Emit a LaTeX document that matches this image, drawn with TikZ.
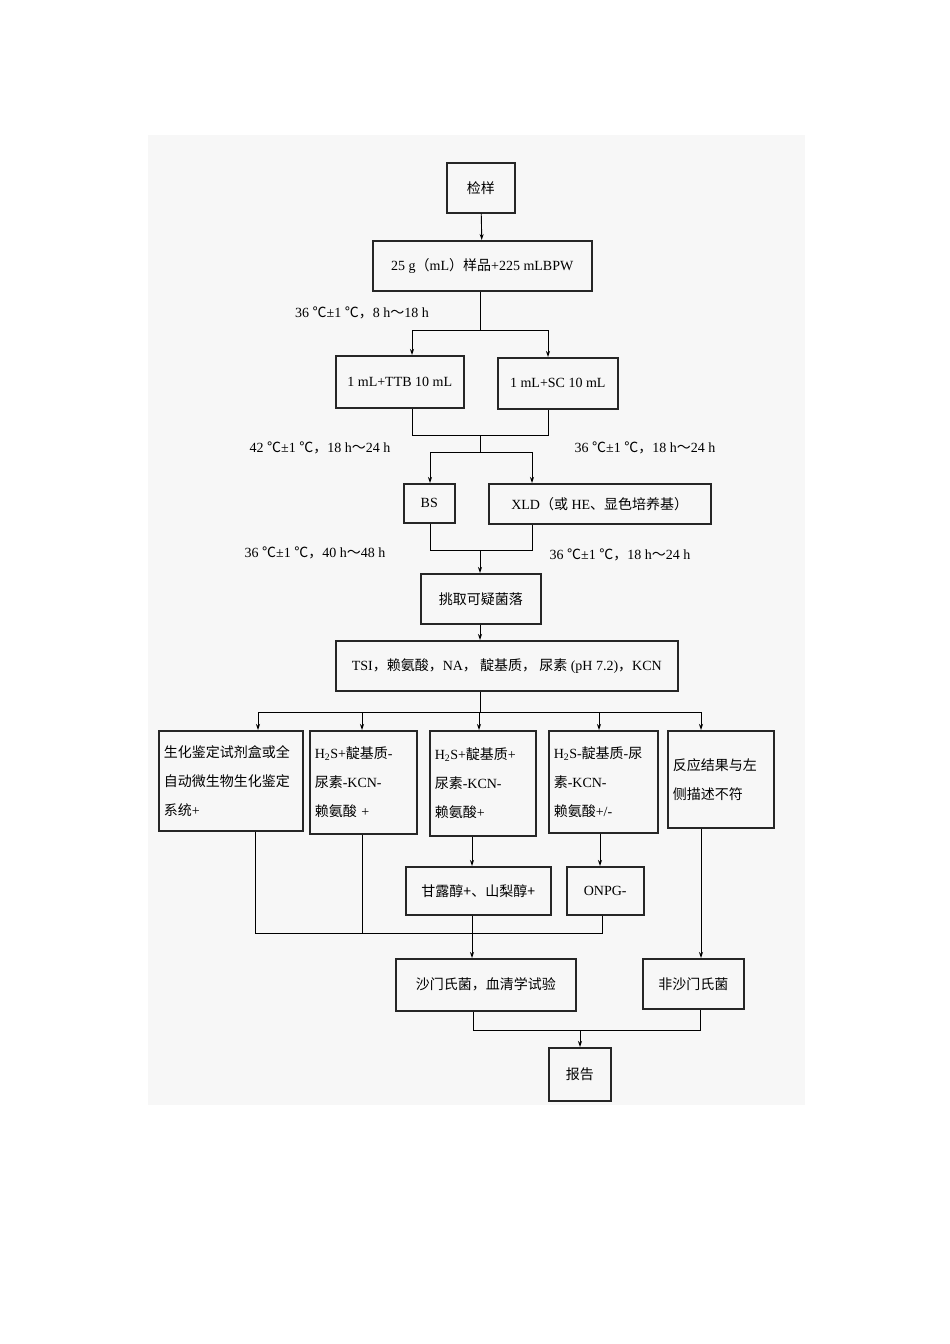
\documentclass[tikz,border=0pt]{standalone}
\usepackage{fontspec}
\setmainfont{Liberation Serif}
\newfontfamily\cjk{Noto Sans CJK SC}
\newcommand\zh[1]{{\cjk #1}}
\usetikzlibrary{arrows.meta}
\begin{document}
\begin{tikzpicture}[x=1pt,y=-1pt,
  box/.style={draw=black!85,line width=1.5pt,anchor=north west,inner sep=0pt,font=\fontsize{14}{17}\selectfont},
  mbox/.style={box,align=left,font=\fontsize{14}{29}\selectfont,text width=#1,inner xsep=5pt,inner ysep=8pt},
  lab/.style={font=\fontsize{14}{16}\selectfont},
  ln/.style={line width=0.9pt},
  ar/.style={ln,-{Stealth[length=6pt,width=4pt]}}]
\useasboundingbox[fill=white] (0,0) rectangle (950,1344);
\fill[black!3] (148,135) rectangle (805,1105);
\node[box,minimum width=68,minimum height=50] (jy) at (446,162) {\zh{检样}};
\node[box,minimum width=219,minimum height=50] (s25) at (372,240) {25 g\zh{（}mL\zh{）样品}+225 mLBPW};
\node[lab] at (362,313) {36 \zh{℃}±1 \zh{℃，}8 h\zh{～}18 h};
\node[box,minimum width=128,minimum height=52] (ttb) at (335,355) {1 mL+TTB 10 mL};
\node[box,minimum width=120,minimum height=51] (sc) at (497,357) {1 mL+SC 10 mL};
\node[lab] at (320,448) {42 \zh{℃}±1 \zh{℃，}18 h\zh{～}24 h};
\node[lab] at (645,448) {36 \zh{℃}±1 \zh{℃，}18 h\zh{～}24 h};
\node[box,minimum width=51,minimum height=39] (bs) at (403,483) {BS};
\node[box,minimum width=222,minimum height=40] (xld) at (488,483) {XLD\zh{（或} HE\zh{、显色培养基）}};
\node[lab] at (315,553) {36 \zh{℃}±1 \zh{℃，}40 h\zh{～}48 h};
\node[lab] at (620,555) {36 \zh{℃}±1 \zh{℃，}18 h\zh{～}24 h};
\node[box,minimum width=120,minimum height=50] (tq) at (420,573) {\zh{挑取可疑菌落}};
\node[box,minimum width=342,minimum height=50] (tsi) at (335,640) {TSI\zh{，赖氨酸，}NA\zh{， 靛基质， 尿素} (pH 7.2)\zh{，}KCN};
\node[mbox=134,minimum width=144,minimum height=100] (a) at (158,730) {\zh{生化鉴定试剂盒或全}\\\zh{自动微生物生化鉴定}\\\zh{系统}+};
\node[mbox=97,minimum width=107,minimum height=103] (b) at (309,730) {H\textsubscript{2}S+\zh{靛基质}-\\\zh{尿素}-KCN-\\\zh{赖氨酸} +};
\node[mbox=96,minimum width=106,minimum height=105] (c) at (429,730) {H\textsubscript{2}S+\zh{靛基质}+\\\zh{尿素}-KCN-\\\zh{赖氨酸}+};
\node[mbox=99,minimum width=109,minimum height=102] (d) at (548,730) {H\textsubscript{2}S-\zh{靛基质}-\zh{尿}\\\zh{素}-KCN-\\\zh{赖氨酸}+/-};
\node[mbox=96,minimum width=106,minimum height=97] (e) at (667,730) {\zh{反应结果与左}\\\zh{侧描述不符}};
\node[box,minimum width=145,minimum height=48] (f) at (405,866) {\zh{甘露醇+、山梨醇+}};
\node[box,minimum width=77,minimum height=48] (g) at (566,866) {ONPG-};
\node[box,minimum width=180,minimum height=52] (sm) at (395,958) {\zh{沙门氏菌，血清学试验}};
\node[box,minimum width=101,minimum height=50] (fsm) at (642,958) {\zh{非沙门氏菌}};
\node[box,minimum width=62,minimum height=53] (bg) at (548,1047) {\zh{报告}};
% connectors
\draw[ar] (jy) -- (s25);
\coordinate (j1) at (480,330);
\draw[ln] (s25.south -| j1) -- (j1);
\draw[ar] (412,330) -- (412,355);
\draw[ar] (548,330) -- (548,357);
\draw[ln] (412,330) -- (548,330);
\draw[ln] (ttb.south -| 412,0) -- (412,435) -- (548,435) -- (sc.south -| 548,0);
\draw[ln] (480,435) -- (480,452);
\draw[ln] (430,452) -- (532,452);
\draw[ar] (430,452) -- (bs.north -| 430,0);
\draw[ar] (532,452) -- (xld.north -| 532,0);
\draw[ln] (bs.south -| 430,0) -- (430,550) -- (532,550) -- (xld.south -| 532,0);
\draw[ar] (480,550) -- (tq.north -| 480,0);
\draw[ar] (tq.south -| 480,0) -- (tsi.north -| 480,0);
\draw[ln] (tsi.south -| 480,0) -- (480,712);
\draw[ln] (258,712) -- (701,712);
\foreach \n/\x in {a/258,b/362,c/479,d/599,e/701} \draw[ar] (\x,712) -- (\n.north -| \x,0);
\draw[ar] (c.south -| 472,0) -- (f.north -| 472,0);
\draw[ar] (d.south -| 600,0) -- (g.north -| 600,0);
\draw[ln] (a.south -| 255,0) -- (255,933) -- (602,933) -- (g.south -| 602,0);
\draw[ln] (b.south -| 362,0) -- (362,933);
\draw[ar] (f.south -| 472,0) -- (sm.north -| 472,0);
\draw[ar] (e.south -| 701,0) -- (fsm.north -| 701,0);
\draw[ln] (sm.south -| 473,0) -- (473,1030) -- (700,1030) -- (fsm.south -| 700,0);
\draw[ar] (580,1030) -- (bg.north -| 580,0);
\end{tikzpicture}
\end{document}
